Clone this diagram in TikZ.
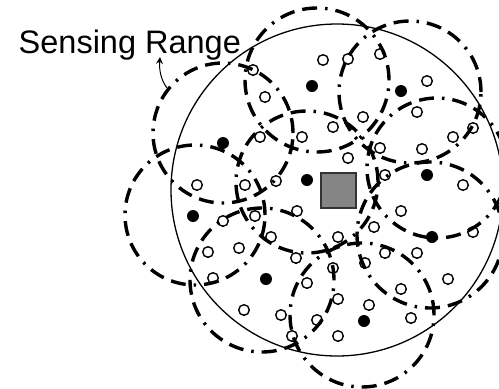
\documentclass[tikz,border=0pt]{standalone}
\usepackage{fontspec}
\setmainfont{Liberation Sans}
\usetikzlibrary{arrows.meta}
\begin{document}
\begin{tikzpicture}[x=1pt,y=-1pt,
  senserange/.style={line width=3.4pt, dash pattern=on 15pt off 8pt on 15pt off 8pt on 2.5pt off 8pt},
  fieldrim/.style={line width=1.3pt},
  sensordot/.style={draw=black, fill=white, line width=1.4pt},
  clusterhead/.style={fill=black},
  sinkbox/.style={draw=black!80, fill=black!48, line width=1.4pt},
  captext/.style={font=\fontsize{32.5}{38}\selectfont, inner sep=0pt, anchor=base west}
]
\useasboundingbox (0,0) rectangle (499,389);

% deployment field
\draw[fieldrim] (337,190) circle[radius=166pt];

% sink
\draw[sinkbox] (321,173) rectangle (356,208);

% ordinary sensors
\foreach \p in {(323,60),(348,59),(380,54),(253,70),(427,81),(265,97),(417,112),
  (363,117),(333,127),(260,137),(302,137),(453,137),(473,128),(380,148),(422,149),
  (348,158),(385,175),(463,185),(276,181),(197,185),(245,185),(223,221),(255,216),
  (271,237),(296,258),(208,252),(239,248),(213,278),(244,310),(281,315),(292,336),
  (297,211),(401,211),(374,227),(338,237),(385,253),(417,253),(473,232),(365,263),
  (333,268),(307,283),(448,279),(401,289),(338,299),(369,305),(317,320),(411,318),
  (338,336)}
  \draw[sensordot] \p circle[radius=5.3pt];

% sensing ranges of the cluster heads
\draw[senserange] (223,133) circle[radius=70pt];
\draw[senserange] (317,80)  circle[radius=72pt];
\draw[senserange] (410,92)  circle[radius=71pt];
\draw[senserange] (437,168) circle[radius=70pt];
\draw[senserange] (430,235) circle[radius=73pt];
\draw[senserange] (362,315) circle[radius=72pt];
\draw[senserange] (262,280) circle[radius=72pt];
\draw[senserange] (195,215) circle[radius=70pt];
\draw[senserange] (307,182) circle[radius=71pt];

% cluster heads
\foreach \p in {(312,86),(401,91),(223,143),(307,180),(427,175),(193,216),
  (266,279),(432,237),(364,321)}
  \fill[clusterhead] \p circle[radius=6pt];

% caption and pointer
\node[captext] (cap) at (18.5,53) {Sensing Range};
\coordinate (rim) at (167,88);
\coordinate (tip) at (160,57);
\draw[line width=1pt, -{Stealth[length=7pt,width=7pt,inset=2.5pt]}]
  (rim) .. controls (161,80) and (159,70) .. (tip);
\end{tikzpicture}
\end{document}
